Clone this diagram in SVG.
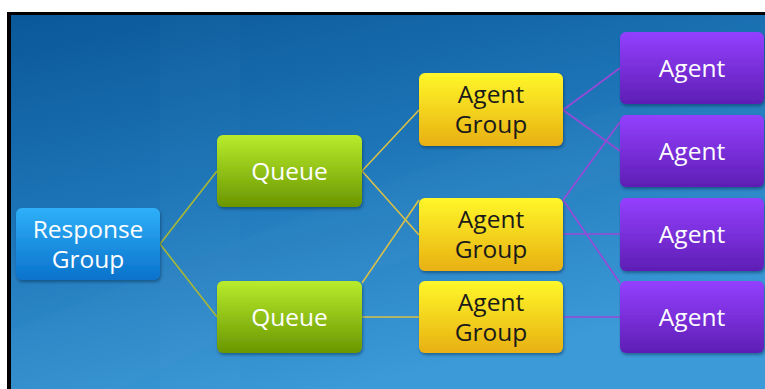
<svg xmlns="http://www.w3.org/2000/svg" width="765" height="389" viewBox="0 0 765 389">
<defs>
<linearGradient id="bg" x1="0" y1="0" x2="0.45" y2="1">
<stop offset="0" stop-color="#0a5898"/>
<stop offset="0.45" stop-color="#1c74b6"/>
<stop offset="1" stop-color="#3c9ad8"/>
</linearGradient>
<linearGradient id="gBlue" x1="0" y1="0" x2="0" y2="1">
<stop offset="0" stop-color="#2fb0f8"/>
<stop offset="1" stop-color="#0a72cc"/>
</linearGradient>
<linearGradient id="gGreen" x1="0" y1="0" x2="0" y2="1">
<stop offset="0" stop-color="#b8ec2c"/>
<stop offset="1" stop-color="#6a9600"/>
</linearGradient>
<linearGradient id="gYellow" x1="0" y1="0" x2="0" y2="1">
<stop offset="0" stop-color="#fff72a"/>
<stop offset="1" stop-color="#e8b012"/>
</linearGradient>
<linearGradient id="gPurple" x1="0" y1="0" x2="0" y2="1">
<stop offset="0" stop-color="#9440ff"/>
<stop offset="1" stop-color="#5e1eb4"/>
</linearGradient>
<filter id="sh" x="-10%" y="-10%" width="125%" height="130%">
<feDropShadow dx="1" dy="2" stdDeviation="1.5" flood-color="#002040" flood-opacity="0.45"/>
</filter>
</defs>
<style>
.box{filter:url(#sh)}
.t{font-family:"Open Sans","Noto Sans","Liberation Sans",sans-serif;font-size:24.5px;text-anchor:middle}
.w{fill:#ffffff}
.k{fill:#1a1a1a}
.lg{stroke:#a8b834;stroke-width:1.6;fill:none}
.ly{stroke:#d8c048;stroke-width:1.6;fill:none}
.lp{stroke:#9a48d8;stroke-width:1.6;fill:none}
</style>
<rect x="0" y="0" width="765" height="389" fill="#ffffff"/>
<rect x="7" y="12" width="758" height="377" fill="#000000"/>
<rect x="11" y="15" width="754" height="374" fill="url(#bg)"/>
<polygon points="11,389 11,330 420,170 765,60 765,120 300,300 120,389" fill="#ffffff" opacity="0.015"/>
<polygon points="160,15 240,15 240,389 160,389" fill="#ffffff" opacity="0.015"/>
<g id="connectors">
<path class="lg" d="M160,244 L217,171 M160,244 L217,317"/>
<path class="ly" d="M362,171 L419,110 M362,171 L419,235 M362,283 L419,200 M362,317 L419,317"/>
<path class="lp" d="M563,110 L620,68 M563,110 L620,151 M563,200 L620,122 M563,234 L620,234 M563,200 L620,283 M563,317 L620,317"/>
</g>
<g id="response-group">
<rect class="box" x="16" y="208" width="144" height="72" rx="6" fill="url(#gBlue)"/>
<text class="t w" x="88" y="238">Response</text>
<text class="t w" x="88" y="268">Group</text>
</g>
<g id="queue-1">
<rect class="box" x="217" y="135" width="145" height="72" rx="6" fill="url(#gGreen)"/>
<text class="t w" x="289.5" y="180">Queue</text>
</g>
<g id="queue-2">
<rect class="box" x="217" y="281" width="145" height="72" rx="6" fill="url(#gGreen)"/>
<text class="t w" x="289.5" y="326">Queue</text>
</g>
<g id="agent-group-1">
<rect class="box" x="419" y="73" width="144" height="73" rx="6" fill="url(#gYellow)"/>
<text class="t k" x="491" y="103">Agent</text>
<text class="t k" x="491" y="133">Group</text>
</g>
<g id="agent-group-2">
<rect class="box" x="419" y="198" width="144" height="73" rx="6" fill="url(#gYellow)"/>
<text class="t k" x="491" y="228">Agent</text>
<text class="t k" x="491" y="258">Group</text>
</g>
<g id="agent-group-3">
<rect class="box" x="419" y="281" width="144" height="72" rx="6" fill="url(#gYellow)"/>
<text class="t k" x="491" y="311">Agent</text>
<text class="t k" x="491" y="341">Group</text>
</g>
<g id="agent-1">
<rect class="box" x="620" y="32" width="144" height="72" rx="6" fill="url(#gPurple)"/>
<text class="t w" x="692" y="77">Agent</text>
</g>
<g id="agent-2">
<rect class="box" x="620" y="115" width="144" height="72" rx="6" fill="url(#gPurple)"/>
<text class="t w" x="692" y="160">Agent</text>
</g>
<g id="agent-3">
<rect class="box" x="620" y="198" width="144" height="73" rx="6" fill="url(#gPurple)"/>
<text class="t w" x="692" y="243">Agent</text>
</g>
<g id="agent-4">
<rect class="box" x="620" y="281" width="144" height="72" rx="6" fill="url(#gPurple)"/>
<text class="t w" x="692" y="326">Agent</text>
</g>
</svg>
